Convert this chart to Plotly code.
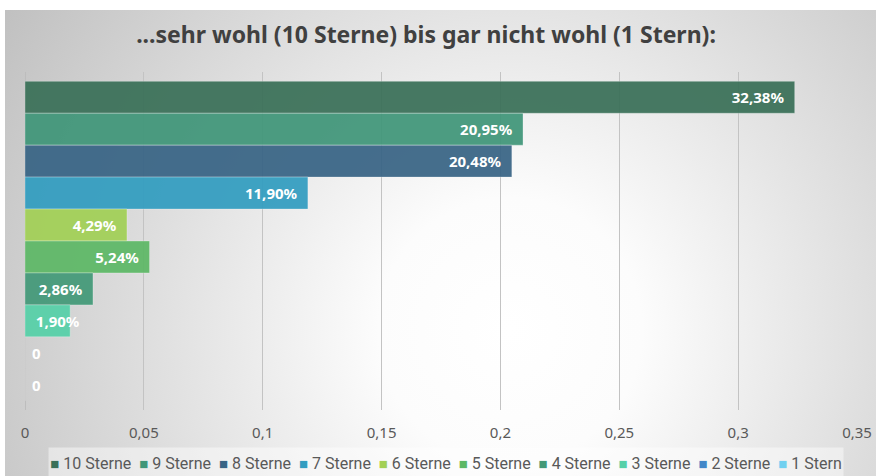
import base64
import plotly.graph_objects as go

# ---- data ----
series_names = ["10 Sterne", "9 Sterne", "8 Sterne", "7 Sterne", "6 Sterne",
                "5 Sterne", "4 Sterne", "3 Sterne", "2 Sterne", "1 Stern"]
shares = [0.3238, 0.2095, 0.2048, 0.1190, 0.0429, 0.0524, 0.0286, 0.0190, 0.0, 0.0]
category = [""]
x_ticks = [0, 0.05, 0.1, 0.15, 0.2, 0.25, 0.3, 0.35]
title_text = "...sehr wohl (10 Sterne) bis gar nicht wohl (1 Stern):"

# ---- style ----
colors = ["#3a7058", "#409679", "#386485", "#329dc0", "#a2d056",
          "#5db866", "#439978", "#56d0a8", "#4187c8", "#70d0f0"]
FONT = "Noto Sans"
LEGEND_FONT = "Roboto"
NB = "\u00a0"

# plot area geometry (pixels)
W, H = 876, 476
L, R, T, B = 25, 19, 72, 66
PW, PH = W - L - R, H - T - B

fig = go.Figure()
for name, v, c in zip(series_names, shares, colors):
    if v == 0:
        pos, tmpl, anchor = "outside", NB + "%{x}", "start"
    elif v < 0.025:
        pos, tmpl, anchor = "inside", NB + NB + "%{x:.2%}", "start"
    else:
        pos, tmpl, anchor = "inside", "%{x:.2%}" + NB + NB, "end"
    fig.add_trace(go.Bar(
        y=category, x=[v], name=name, orientation="h",
        marker=dict(color=c, opacity=0.93,
                    line=dict(color="rgba(255,255,255,0.3)", width=1)),
        texttemplate=tmpl, textposition=pos, insidetextanchor=anchor,
        textangle=0, constraintext="none", cliponaxis=False,
        textfont=dict(family=FONT, size=15, color="white", weight="bold"),
        hoverinfo="skip", showlegend=False,
    ))

# legend row (square marker + series name), laid out by the browser as one text line
legend_text = (NB + NB).join(
    f'<span style="color:{c};font-size:15px">\u25a0</span>{NB}{n}'
    for n, c in zip(series_names, colors)
)

# radial gradient background of the chart area
svg = (
    '<svg xmlns="http://www.w3.org/2000/svg" width="871" height="466" '
    'viewBox="0 0 871 466" preserveAspectRatio="none"><defs>'
    '<radialGradient id="g" gradientUnits="userSpaceOnUse" cx="505" cy="320" r="600">'
    '<stop offset="0" stop-color="#ffffff"/>'
    '<stop offset="0.22" stop-color="#fcfcfc"/>'
    '<stop offset="1" stop-color="#c0c0c0"/>'
    '</radialGradient></defs>'
    '<rect width="871" height="466" fill="url(#g)"/></svg>'
)
bg_src = "data:image/svg+xml;base64," + base64.b64encode(svg.encode()).decode()

fig.update_layout(
    width=W, height=H,
    margin=dict(l=L, r=R, t=T, b=B, autoexpand=False),
    paper_bgcolor="white",
    plot_bgcolor="rgba(0,0,0,0)",
    barmode="group", bargap=0.055, bargroupgap=0,
    separators=",.",
    font=dict(family=FONT, color="#595959"),
    showlegend=False,
    title=dict(text="<b>" + title_text + "</b>",
               x=426 / W, xanchor="center", y=1 - 35 / H, yanchor="middle",
               font=dict(family=FONT, size=23, color="#404040")),
    xaxis=dict(range=[0, 0.35], tickvals=x_ticks, showgrid=True,
               gridcolor="#c3c3c3", gridwidth=1,
               zeroline=True, zerolinecolor="#bdbdbd", zerolinewidth=1,
               showline=False, ticks="", ticklabelstandoff=12,
               tickfont=dict(family=FONT, size=15, color="#595959")),
    yaxis=dict(autorange="reversed", showticklabels=False, showgrid=False,
               zeroline=False, showline=False, ticks=""),
    annotations=[dict(
        text=legend_text, xref="paper", yref="paper",
        x=(446 - L) / PW, y=-(463 - 410) / PH,
        xanchor="center", yanchor="middle",
        width=794, height=30, borderpad=0, align="center",
        bgcolor="rgba(255,255,255,0.45)", showarrow=False,
        font=dict(family=LEGEND_FONT, size=16, color="#595959"),
    )],
    images=[dict(source=bg_src, xref="paper", yref="paper",
                 x=(5 - L) / PW, y=1 + (T - 10) / PH,
                 sizex=871 / PW, sizey=466 / PH,
                 xanchor="left", yanchor="top", sizing="stretch",
                 layer="below")],
)

fig.write_html(
    "out.html",
    config={"displayModeBar": False},
    post_script="document.body.style.margin='0';document.body.style.overflow='hidden';",
)
